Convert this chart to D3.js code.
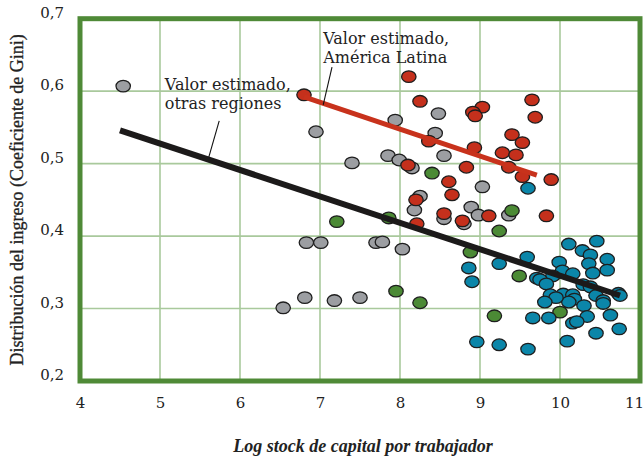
<!DOCTYPE html>
<html>
<head>
<meta charset="utf-8">
<script src="https://cdn.jsdelivr.net/npm/d3@7"></script>
<style>
  body { margin: 0; background: #fff; }
  text { font-family: "DejaVu Serif", "Liberation Serif", serif; fill: #222; }
</style>
</head>
<body>
<div id="chart"></div>
<script>
// Datos: [log stock de capital, Gini]
var otrasGris = [
  [4.54, 0.607], [6.95, 0.544], [7.94, 0.560], [8.48, 0.569], [8.44, 0.542],
  [8.55, 0.511], [7.40, 0.501], [7.85, 0.511], [7.99, 0.505], [8.15, 0.494],
  [8.25, 0.455], [8.18, 0.436], [8.55, 0.424], [8.80, 0.417], [8.89, 0.440],
  [8.98, 0.429], [9.03, 0.468], [9.36, 0.429], [6.83, 0.391], [7.01, 0.391],
  [7.70, 0.391], [7.78, 0.392], [8.03, 0.382], [6.54, 0.301], [6.81, 0.315],
  [7.18, 0.311], [7.50, 0.315]
];

var americaLatina = [
  [6.80, 0.595], [8.11, 0.620], [8.25, 0.586], [8.36, 0.531], [8.10, 0.498],
  [8.20, 0.450], [8.21, 0.417], [8.55, 0.431], [8.61, 0.475], [8.65, 0.457],
  [8.78, 0.421], [8.83, 0.495], [8.93, 0.522], [9.03, 0.578], [8.91, 0.571],
  [8.94, 0.566], [9.28, 0.515], [9.36, 0.495], [9.40, 0.540], [9.45, 0.512],
  [9.53, 0.529], [9.53, 0.482], [9.65, 0.588], [9.69, 0.564], [9.89, 0.478],
  [9.11, 0.428], [9.83, 0.428]
];

var otrasVerde = [
  [7.21, 0.420], [7.86, 0.425], [8.40, 0.487], [7.95, 0.324], [8.25, 0.308],
  [9.40, 0.435], [9.24, 0.407], [8.88, 0.378], [9.49, 0.345], [9.18, 0.290],
  [10.00, 0.295]
];

var otrasAzul = [
  [9.60, 0.466], [10.11, 0.389], [10.46, 0.393], [10.28, 0.380], [10.38, 0.374],
  [10.59, 0.368], [9.59, 0.371], [9.24, 0.362], [9.99, 0.364], [10.36, 0.362],
  [10.41, 0.349], [10.59, 0.353], [10.03, 0.352], [10.16, 0.348], [9.91, 0.345],
  [9.71, 0.342], [9.75, 0.340], [9.83, 0.334], [10.29, 0.333], [10.38, 0.330],
  [10.73, 0.321], [10.75, 0.318], [9.88, 0.319], [10.04, 0.320], [10.16, 0.319],
  [10.18, 0.313], [10.11, 0.309], [9.95, 0.315], [9.81, 0.309], [10.45, 0.318],
  [10.54, 0.311], [10.54, 0.307], [10.30, 0.304], [9.66, 0.287], [9.86, 0.287],
  [10.34, 0.289], [10.63, 0.291], [10.16, 0.280], [10.21, 0.282], [10.45, 0.266],
  [10.74, 0.272], [10.09, 0.255], [9.24, 0.250], [9.60, 0.244], [8.96, 0.254],
  [8.86, 0.356], [8.90, 0.337]
];

// rectas estimadas
var rectaOtras = [[4.5, 0.546], [10.75, 0.318]];
var rectaLatam = [[6.8, 0.592], [9.71, 0.484]];

var xTicks = [4, 5, 6, 7, 8, 9, 10, 11];
var yTicks = [0.2, 0.3, 0.4, 0.5, 0.6, 0.7];

// Constantes de tamano
var width = 644;
var height = 461;
var margin = { top: 18.7, right: 4, bottom: 80, left: 80 };

var svg = d3.select('#chart')
  .append('svg')
  .attr('width', width)
  .attr('height', height);

var x = d3.scaleLinear()
  .domain([4, 11])
  .range([margin.left, width - margin.right]);

var y = d3.scaleLinear()
  .domain([0.2, 0.7])
  .range([height - margin.bottom, margin.top]);

var fmt = function (d) { return d3.format('.1f')(d).replace('.', ','); };

// rejilla
var grid = svg.append('g');
grid.selectAll('.vx')
  .data(xTicks)
  .enter().append('line')
  .attr('x1', function (d) { return x(d); })
  .attr('x2', function (d) { return x(d); })
  .attr('y1', y(0.7))
  .attr('y2', y(0.2))
  .attr('stroke', '#a9c99c')
  .attr('stroke-width', 1.6);

grid.selectAll('.hy')
  .data(yTicks)
  .enter().append('line')
  .attr('x1', x(4))
  .attr('x2', x(11))
  .attr('y1', function (d) { return y(d); })
  .attr('y2', function (d) { return y(d); })
  .attr('stroke', '#a9c99c')
  .attr('stroke-width', 1.6);

// ejes (solo etiquetas)
var xAxis = d3.axisBottom(x).tickValues(xTicks).tickFormat(d3.format('d')).tickSize(0).tickPadding(16);
svg.append('g')
  .attr('transform', 'translate(0,' + y(0.2) + ')')
  .call(xAxis)
  .call(function (g) { g.select('.domain').remove(); })
  .selectAll('text')
  .style('font-family', '"DejaVu Serif", serif')
  .style('font-size', '15px')
  .attr('fill', '#333')
  .attr('dx', function (d) { return d === 11 ? -6 : 0; });

var yAxis = d3.axisLeft(y).tickValues(yTicks).tickFormat(fmt).tickSize(0).tickPadding(16);
svg.append('g')
  .attr('transform', 'translate(' + x(4) + ',0)')
  .call(yAxis)
  .call(function (g) { g.select('.domain').remove(); })
  .selectAll('text')
  .style('font-family', '"DejaVu Serif", serif')
  .style('font-size', '15px')
  .attr('fill', '#333')
  .attr('dy', '-0.1em');

// puntos
function dots(data, color) {
  svg.append('g').selectAll('ellipse')
    .data(data)
    .enter().append('ellipse')
    .attr('cx', function (d) { return x(d[0]); })
    .attr('cy', function (d) { return y(d[1]); })
    .attr('rx', 7.2)
    .attr('ry', 5.8)
    .attr('fill', color)
    .attr('stroke', '#1e1e1e')
    .attr('stroke-width', 1.3);
}
dots(otrasGris, '#9c9ea2');
dots(otrasVerde, '#4b8a35');
dots(americaLatina, '#c5301c');
dots(otrasAzul, '#0b86a9');

var line = d3.line()
  .x(function (d) { return x(d[0]); })
  .y(function (d) { return y(d[1]); });

svg.append('path')
  .datum(rectaOtras)
  .attr('d', line)
  .attr('stroke', '#1c1a1a')
  .attr('stroke-width', 6)
  .attr('fill', 'none');

svg.append('path')
  .datum(rectaLatam)
  .attr('d', line)
  .attr('stroke', '#c8321c')
  .attr('stroke-width', 5)
  .attr('fill', 'none');

// marco
svg.append('rect')
  .attr('x', x(4))
  .attr('y', y(0.7))
  .attr('width', x(11) - x(4))
  .attr('height', y(0.2) - y(0.7))
  .attr('fill', 'none')
  .attr('stroke', '#4f8a37')
  .attr('stroke-width', 5);

// anotaciones
var notas = [
  { lineas: ['Valor estimado,', 'otras regiones'], pos: [5.06, 0.601], guia: [[5.74, 0.559], [5.61, 0.509]] },
  { lineas: ['Valor estimado,', 'América Latina'], pos: [7.04, 0.665], guia: [[7.15, 0.633], [7.04, 0.581]] }
];

notas.forEach(function (n) {
  var t = svg.append('text')
    .attr('x', x(n.pos[0]))
    .attr('y', y(n.pos[1]))
    .style('font-size', '16px');
  n.lineas.forEach(function (s, i) {
    t.append('tspan')
      .attr('x', x(n.pos[0]))
      .attr('dy', i === 0 ? 0 : 18.5)
      .text(s);
  });
  svg.append('path')
    .datum(n.guia)
    .attr('d', line)
    .attr('stroke', '#111')
    .attr('stroke-width', 1.1);
});

// titulos
svg.append('text')
  .attr('transform', 'translate(23,' + ((y(0.7) + y(0.2)) / 2) + ') rotate(-90)')
  .attr('text-anchor', 'middle')
  .style('font-family', '"Liberation Serif", serif')
  .style('font-size', '18px')
  .style('stroke', '#222')
  .style('stroke-width', 0.3)
  .text('Distribución del ingreso (Coeficiente de Gini)');

svg.append('text')
  .attr('x', 363)
  .attr('y', 452)
  .attr('text-anchor', 'middle')
  .style('font-family', '"Liberation Serif", serif')
  .style('font-size', '18px')
  .style('font-weight', 'bold')
  .style('font-style', 'italic')
  .text('Log stock de capital por trabajador');
</script>
</body>
</html>
